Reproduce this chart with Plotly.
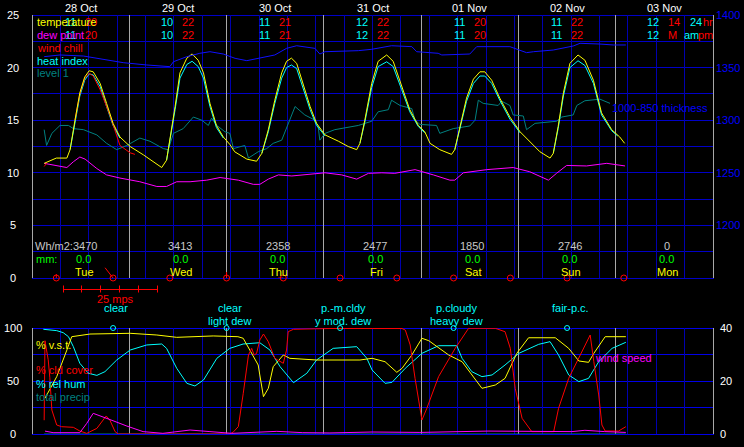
import math
import plotly.graph_objects as go

# ---------------- data (hours from 28 Oct 00:00, value) ----------------
temperature = [(3.0,10.9),(4.4,11.15),(6.0,11.4),(8.6,11.4),(9.4,12.2),(10.6,15.0),(11.8,17.6),(13.0,19.1),(14.1,19.7),(15.1,19.6),
               (16.8,18.5),(18.4,16.6),(20.0,14.7),(21.7,13.4),(24.2,12.5),(27.5,11.7),(29.9,11.05),(32.0,10.5),(33.2,11.2),(34.0,13.1),
               (35.3,16.3),(36.5,19.5),(38.2,20.9),(39.5,21.3),(41.0,20.7),(42.3,19.5),(43.9,16.6),(45.5,14.5),(47.2,13.4),(48.8,12.7),
               (50.0,12.0),(53.0,11.3),(55.4,11.1),(56.7,11.85),(58.3,14.1),(59.9,16.9),(61.6,19.5),(62.8,20.6),(64.0,20.9),(65.3,20.4),
               (66.9,18.5),(68.6,16.3),(70.2,14.7),(72.3,13.6),(75.6,13.0),(78.0,12.5),(80.1,12.2),(80.9,12.8),(82.1,15.0),(83.8,18.5),
               (85.4,20.6),(87.5,21.2),(89.1,20.6),(91.2,18.2),(93.2,16.0),(95.3,14.5),(96.9,13.9),(98.2,12.8),(100.6,12.2),(103.5,11.75),
               (104.3,12.2),(105.6,14.4),(107.2,17.1),(108.9,18.9),(110.5,19.6),(111.7,19.6),(113.4,18.8),(115.4,17.1),(117.9,15.3),(120.4,13.9),
               (122.8,13.0),(125.3,12.0),(127.8,11.4),(128.6,11.85),(129.8,14.4),(131.1,17.6),(132.7,20.4),(134.7,21.2),(136.4,20.7),(138.5,18.8),
               (140.5,15.7),(143.0,14.1),(145.0,13.4),(146.2,12.8)]

heat_index = [(9.4,12.2),(10.6,14.8),(11.8,17.3),(13.0,18.8),(14.1,19.4),(15.1,19.3),(16.8,18.2),(18.4,16.3),(20.0,14.5),(21.7,13.3),None,
              (33.2,11.2),(34.0,12.9),(35.3,16.0),(36.5,19.0),(38.2,20.3),(39.5,20.6),(41.0,20.1),(42.3,19.0),(43.9,16.3),(45.5,14.3),(47.2,13.3),None,
              (56.7,11.85),(58.3,13.9),(59.9,16.6),(61.6,19.0),(62.8,20.0),(64.0,20.25),(65.3,19.9),(66.9,18.1),(68.6,16.0),(70.2,14.5),(72.3,13.5),None,
              (80.9,12.8),(82.1,14.8),(83.8,18.1),(85.4,20.1),(87.5,20.55),(89.1,20.1),(91.2,17.9),(93.2,15.8),(95.3,14.4),(96.9,13.8),None,
              (104.3,12.2),(105.6,14.2),(107.2,16.8),(108.9,18.5),(110.5,19.2),(111.7,19.2),(113.4,18.5),(115.4,16.9),(117.9,15.1),(120.4,13.8),None,
              (128.6,11.85),(129.8,14.2),(131.1,17.3),(132.7,20.0),(134.7,20.65),(136.4,20.2),(138.5,18.5),(140.5,15.5),(143.0,14.0),(144.5,13.5)]

wind_chill = [(3.0,10.6),(3.6,10.9),None,
              (10.6,15.0),(11.8,17.5),(13.0,19.0),(14.1,19.45),(15.1,19.2),(16.8,17.9),(19.2,15.5),(20.5,13.9),(21.7,12.6),(24.2,11.9),(25.4,11.75)]

dew_point = [(3.0,10.9),(6.1,10.7),(8.6,10.5),(10.2,11.05),(11.8,11.5),(13.1,11.3),(16.0,10.4),(18.4,9.8),(21.7,9.5),(26.6,9.15),
             (30.8,8.7),(33.2,8.7),(35.7,9.15),(39.0,9.15),(43.1,9.3),(46.4,9.55),(50.9,9.3),(54.6,8.9),(56.2,8.9),(58.3,9.4),
             (60.8,9.8),(64.1,9.7),(68.2,9.85),(72.3,10.0),(76.4,9.8),(80.1,9.4),(83.0,9.95),(86.3,10.0),(89.5,9.95),(94.5,10.3),
             (99.0,9.8),(103.1,9.3),(104.3,9.3),(106.4,10.0),(112.2,10.3),(118.7,10.5),(122.8,10.1),(127.4,9.3),(129.4,9.95),(131.9,10.7),
             (136.8,10.65),(141.8,10.9),(146.3,10.65)]

level_1 = [(3.0,14.1),(3.6,12.6),(4.9,13.75),(6.9,14.5),(9.0,14.5),(10.2,14.2),(12.7,14.1),(16.0,13.6),(18.4,12.8),(20.9,12.2),
           (23.4,12.6),(26.6,13.3),(29.1,13.0),(32.4,12.3),(33.6,12.2),(34.9,13.75),(37.3,14.2),(39.8,15.3),(41.9,15.0),(43.5,14.5),
           (44.3,15.2),(45.6,14.5),(47.6,13.9),(48.8,13.75),(49.7,12.3),(52.5,12.6),(53.4,11.4),(55.8,12.0),(57.9,12.3),(59.5,12.8),
           (61.6,13.1),(63.6,15.0),(64.9,16.3),(67.3,15.5),(69.8,15.0),(70.6,14.4),(71.0,13.1),(72.3,13.75),(74.7,14.1),(80.5,14.5),
           (83.8,14.9),(85.4,15.8),(87.9,16.0),(88.7,16.9),(90.8,16.4),(93.7,16.1),(94.5,15.0),(95.7,14.6),(99.8,14.5),(100.6,13.75),
           (103.9,14.2),(108.0,14.45),(109.3,15.0),(110.1,16.9),(111.3,16.6),(115.0,16.4),(115.9,16.8),(117.9,16.4),(118.7,15.5),(121.2,15.4),
           (122.0,14.1),(124.1,14.7),(129.4,14.9),(130.7,15.3),(133.5,15.5),(134.4,16.4),(136.4,16.85),(140.1,17.0),(142.6,16.6)]

thickness = [(3.0,1360.4),(6.9,1362),(12.7,1361),(17.6,1357.9),(22.5,1354.7),(28.3,1352.5),(34.0,1350.9),(34.9,1355.6),(38.2,1360.4),(41.4,1363.6),
             (43.9,1365.1),(47.2,1362.9),(50.1,1358.8),(53.0,1356.6),(55.8,1358.8),(59.9,1362),(62.8,1368.3),(65.3,1370.8),(69.8,1368.3),(71.0,1362.9),
             (72.3,1365.1),(80.5,1366.1),(83.8,1367.4),(88.7,1370.8),(93.7,1369.9),(94.9,1365.1),(100.2,1363.6),(101.1,1362),(108.0,1362.9),(109.7,1369.9),
             (117.9,1369.9),(119.6,1367.4),(122.0,1364.2),(123.7,1365.1),(128.6,1366.7),(133.5,1370.5),(135.2,1373.1),(140.1,1372.4),(143.4,1371.5),(146.5,1371.5)]

rel_hum = [(2.8,98.8),(6.1,97.5),(7.7,95.6),(9.0,91.8),(10.2,82.4),(11.8,66.7),(13.9,57.3),(16.0,55.3),(18.0,58.8),(20.9,69.8),
           (24.2,79.2),(28.3,84.0),(32.0,84.9),(33.2,80.8),(35.7,62.0),(38.2,47.8),(40.2,45.3),(42.3,50.9),(45.6,71.4),(48.8,80.8),
           (52.1,84.9),(56.2,86.1),(58.7,79.2),(61.2,63.5),(64.5,48.4),(67.8,57.3),(70.2,69.8),(74.3,80.8),(80.1,82.4),(82.6,71.4),
           (83.9,60.4),(87.1,47.8),(88.8,48.7),(92.1,62.0),(96.2,76.1),(100.3,83.3),(104.8,83.3),(106.1,71.4),(108.5,58.8),(111.0,54.1),
           (113.5,55.7),(116.7,65.1),(120.1,76.1),(125.0,84.6),(127.8,87.1),(129.9,74.5),(132.4,55.7),(134.9,49.4),(137.3,52.5),(139.8,68.2),
           (143.1,80.8),(146.5,86.5)]

vst = [(3.2,33.7),(6.1,54.1),(8.6,79.2),(9.8,91.8),(14.3,94.3),(24.2,95.0),(30.8,93.4),(35.7,91.2),(44.7,92.5),(50.8,91.8),
       (52.1,90.3),(54.2,76.1),(55.8,65.1),(56.2,55.7),(57.1,35.2),(58.3,43.1),(59.5,63.5),(62.0,74.5),(63.6,71.4),(70.2,69.8),
       (80.9,69.8),(83.9,71.4),(87.1,68.2),(90.0,58.2),(91.3,62.0),(93.7,74.5),(96.2,90.3),(97.9,88.0),(102.8,74.5),(106.1,68.2),
       (108.5,55.7),(111.0,43.1),(114.3,46.2),(116.7,52.5),(119.6,76.1),(122.5,90.8),(129.1,90.8),(132.4,80.8),(134.9,68.9),(137.3,67.6),
       (138.6,76.1),(141.4,91.8),(146.5,91.8)]

cld_cover = [(3.0,13),(3.2,88),(4.0,70),(4.4,53),(4.9,22.6),(6.1,8.5),(7.3,6.9),(10.2,6.3),(11.8,2.8),(13.5,0.6),
             (16.0,5.3),(18.3,17),(19.2,13.2),(20.5,2.2),(21.3,0),(48.8,0),(49.7,2),(50.9,7),(52.1,38),(53.4,74.5),
             (54.2,80.8),(54.8,74.5),(55.4,76),(56.2,88.7),(57.1,94.3),(58.3,87),(59.9,71.4),(62.0,66.7),(62.8,79.2),(63.2,96.5),
             (64.5,98.8),(73.5,99.5),(83.9,99.5),(91.3,99.5),(92.1,98),(93.3,84),(94.5,52.5),(95.8,21),(96.2,13.2),(97.4,24.2),
             (100.3,54.1),(104.4,80.8),(107.7,99.7),(114.3,99.7),(116.7,96.5),(118.0,80.8),(119.2,43.1),(120.9,14.8),(123.3,2.2),(128.7,2.2),
             (129.9,24.2),(132.4,52.5),(134.9,71.4),(137.7,93.4),(138.6,68.2),(139.8,36.8),(140.6,8.5),(141.4,2.8),(144.7,2.8),(146.5,6.9)]

wind_speed = [(3.2,1.1),(5.2,0.5),(11.8,0.5),(13.5,4.0),(15.1,7.8),(17.6,6.5),(20.0,5.0),(23.4,3.0),(27.4,0.9),(32.3,0.25),
              (39.0,1.5),(43.9,0.9),(49.3,0.25),(60.4,1.0),(66.8,0.5),(73.5,0.4),(83.9,0.75),(95.7,0.6),(112.5,1.1),(133.2,0.9),
              (136.4,1.4),(141.3,0.9),(146.5,0.6)]

total_precip = [(3.0,0.0),(146.5,0.0)]

dates = ["28 Oct", "29 Oct", "30 Oct", "31 Oct", "01 Nov", "02 Nov", "03 Nov"]
weekdays = ["Tue", "Wed", "Thu", "Fri", "Sat", "Sun", "Mon"]
row1_min = ["11", "10", "11", "12", "11", "11", "12"]
row1_max = ["20", "22", "21", "22", "20", "22", "14"]
row2_min = ["11", "10", "11", "12", "11", "11", "12"]
row2_max = ["20", "22", "21", "22", "20", "22", "M"]
solar_wh = [3470, 3413, 2358, 2477, 1850, 2746, 0]
rain_mm = [0.0, 0.0, 0.0, 0.0, 0.0, 0.0, 0.0]

wind_marker_hours = [6, 20, 34, 48, 62, 76, 90, 104, 118, 132, 146]
barb_hours = [6, 20, 48, 62]
barb_dir_deg = [90, 128, 90, 180]
barb_len = [4, 13, 6, 5]
scale_mps = [0, 5, 10, 15, 20, 25]

wx_hours = [20, 48, 76, 104, 132]
wx_line1 = ["clear", "clear", "p.-m.cldy", "p.cloudy", "fair-p.c."]
wx_line2 = ["", "light dew", "y mod. dew", "heavy dew", ""]

top_left_ticks = [0, 5, 10, 15, 20, 25]
top_right_ticks = [1200, 1250, 1300, 1350, 1400]
bot_left_ticks = [0, 50, 100]
bot_right_ticks = [0, 20, 40]

# ---------------- layout helpers ----------------
W, H = 744, 447
L, R, T, B = 32, 31, 15, 13
PW, PH = W - L - R, H - T - B
FONT = "Liberation Sans, Arial, sans-serif"
X_SPAN = 168.0
TOP_PIX = (15, 278)     # pixel rows of value 25 and 0 (top panel)
BOT_PIX = (328, 434)    # pixel rows of value 100 and 0 (bottom panel)

def py(p):
    return (H - B - p) / PH

def pxp(p):
    return (p - L) / PW

def snap(p):
    return math.floor(p + 1e-6) + 0.5

YEL, MAG, RED, CYA, TEAL, BLU = "#ffff00", "#ff00ff", "#ff0000", "#00ffff", "#008080", "#1010ff"
GRAY, VBLUE, HBLUE_TOP, HBLUE_BOT = "#a8a8a8", "#0000b0", "#0000c8", "#0000e8"

fig = go.Figure()

def add_line(pairs, color, xa, ya):
    xs = [p[0] if p else None for p in pairs]
    ys = [p[1] if p else None for p in pairs]
    fig.add_trace(go.Scatter(x=xs, y=ys, mode="lines", line=dict(color=color, width=1),
                             xaxis=xa, yaxis=ya, hoverinfo="skip", showlegend=False,
                             connectgaps=False))

# top panel
add_line(thickness, BLU, "x", "y2")
add_line(level_1, TEAL, "x", "y")
add_line(dew_point, MAG, "x", "y")
add_line(heat_index, CYA, "x", "y")
add_line(wind_chill, RED, "x", "y")
add_line(temperature, YEL, "x", "y")
fig.add_trace(go.Scatter(x=wind_marker_hours, y=[0] * len(wind_marker_hours), mode="markers",
                         marker=dict(symbol="circle-open", size=6, color=RED, line=dict(width=1, color=RED)),
                         xaxis="x", yaxis="y", cliponaxis=False, hoverinfo="skip", showlegend=False))

# bottom panel
add_line(total_precip, TEAL, "x2", "y3")
add_line(wind_speed, MAG, "x2", "y4")
add_line(rel_hum, CYA, "x2", "y3")
add_line(vst, YEL, "x2", "y3")
add_line(cld_cover, RED, "x2", "y3")
fig.add_trace(go.Scatter(x=wx_hours, y=[100] * len(wx_hours), mode="markers",
                         marker=dict(symbol="circle-open", size=5, color=CYA, line=dict(width=1, color=CYA)),
                         xaxis="x2", yaxis="y3", cliponaxis=False, hoverinfo="skip", showlegend=False))

xcommon = dict(range=[0, X_SPAN], showticklabels=False, ticks="", showgrid=False,
               zeroline=False, showline=False)

fig.update_layout(
    width=W, height=H, autosize=False,
    margin=dict(l=L, r=R, t=T, b=B, pad=0),
    paper_bgcolor="black", plot_bgcolor="black",
    showlegend=False,
    font=dict(family=FONT, size=11, color="white"),
    xaxis=dict(domain=[0, 1], anchor="y", **xcommon),
    xaxis2=dict(domain=[0, 1], anchor="y3", **xcommon),
    yaxis=dict(domain=[py(TOP_PIX[1]), py(TOP_PIX[0])], range=[0, 25], showticklabels=False,
               showgrid=False, zeroline=False, anchor="x"),
    yaxis2=dict(overlaying="y", side="right", range=[1150, 1400], showgrid=False,
                showticklabels=False, zeroline=False, anchor="x"),
    yaxis3=dict(domain=[py(BOT_PIX[1]), py(BOT_PIX[0])], range=[0, 100], showticklabels=False,
                showgrid=False, zeroline=False, anchor="x2"),
    yaxis4=dict(overlaying="y3", side="right", range=[0, 40], showgrid=False,
                showticklabels=False, zeroline=False, anchor="x2"),
)

# ---------------- pixel-crisp grid (shapes) ----------------
shapes = []

def vline(px, y_top, y_bot, color):
    x = pxp(snap(px))
    shapes.append(dict(type="line", xref="paper", yref="paper", x0=x, x1=x,
                       y0=py(y_top), y1=py(y_bot), line=dict(color=color, width=1), layer="below"))

def hline(pyy, color):
    y = py(snap(pyy))
    shapes.append(dict(type="line", xref="paper", yref="paper", x0=pxp(L), x1=pxp(L + PW + 1),
                       y0=y, y1=y, line=dict(color=color, width=1), layer="below"))

for top, bot, hstep, hcount, hcol in [(TOP_PIX[0], TOP_PIX[1], 2.5, 10, HBLUE_TOP),
                                       (BOT_PIX[0], BOT_PIX[1], 25, 4, HBLUE_BOT)]:
    for k in range(hcount + 1):
        hline(bot - k * (bot - top) / hcount, hcol)
    for hr in range(7, 168, 7):
        if hr % 24:
            vline(L + hr / X_SPAN * PW, top, bot, VBLUE)
    for hr in range(0, 169, 24):
        vline(L + hr / X_SPAN * PW, top, bot, GRAY)

ann = []

def txt(text, x, y, color, xref="paper", yref="paper", xanchor="center", xshift=0, size=11):
    ann.append(dict(text=text, x=x, y=y, xref=xref, yref=yref, xanchor=xanchor, yanchor="middle",
                    showarrow=False, xshift=xshift, font=dict(family=FONT, size=size, color=color)))

# axis labels
for v in top_left_ticks:
    txt(str(v), pxp(13), v, "white", yref="y")
for v in top_right_ticks:
    txt(str(v), pxp(742), v, "#0000ff", yref="y2", xanchor="right")
for v in bot_left_ticks:
    txt(str(v), pxp(13), v, "white", yref="y3")
for v in bot_right_ticks:
    txt(str(v), pxp(718), v, "white", yref="y4", xanchor="left")

# per-day text
for i in range(7):
    mid = 12 + 24 * i
    txt(dates[i], mid, py(8), "white", xref="x")
    txt(row1_min[i], mid, py(22), CYA, xref="x", xanchor="right", xshift=-3)
    txt(row1_max[i], mid, py(22), RED, xref="x", xanchor="left", xshift=2)
    txt(row2_min[i], mid, py(35), CYA, xref="x", xanchor="right", xshift=-3)
    txt(row2_max[i], mid, py(35), RED, xref="x", xanchor="left", xshift=2)
    if i == 0:
        txt("Wh/m2:%d" % solar_wh[i], pxp(33), py(245.5), "#c8c8c8", xanchor="left")
    else:
        txt(str(solar_wh[i]), mid, py(245.5), "#c8c8c8", xref="x", xshift=2.5)
    txt("%.1f" % rain_mm[i], mid, py(259), "#00ff00", xref="x", xshift=2.5)
    txt(weekdays[i], mid, py(271.5), YEL, xref="x", xshift=3.5)

txt("mm:", pxp(34), py(259), "#00ff00", xanchor="left")
txt("24", pxp(688), py(22), CYA, xanchor="left")
txt("hr", pxp(701), py(22), RED, xanchor="left")
txt("am", pxp(682), py(35), CYA, xanchor="left")
txt("pm", pxp(696), py(35), RED, xanchor="left")

# legends
txt("temperature", pxp(35), py(22.5), YEL, xanchor="left")
txt("dew point", pxp(35), py(35), MAG, xanchor="left")
txt("wind chill", pxp(35), py(48), RED, xanchor="left")
txt("heat index", pxp(35), py(61), CYA, xanchor="left")
txt("level 1", pxp(35), py(73), TEAL, xanchor="left")
txt("1000-850 thickness", pxp(610), py(108), "#0000ff", xanchor="left")

txt("% v.s.t.", pxp(34), py(345), YEL, xanchor="left")
txt("% cld cover", pxp(34), py(370), RED, xanchor="left")
txt("% rel hum", pxp(34), py(384), CYA, xanchor="left")
txt("total precip", pxp(34), py(397), TEAL, xanchor="left")
txt("wind speed", pxp(593), py(358), MAG, xanchor="left")

# weather descriptions
for h, l1, l2 in zip(wx_hours, wx_line1, wx_line2):
    txt(l1, h, py(307.5), CYA, xref="x", xshift=3)
    if l2:
        txt(l2, h, py(321), CYA, xref="x", xshift=3)

# wind scale
txt("25 mps", pxp(115), py(299), RED)
sx0, sstep = 63, 3.76
shapes.append(dict(type="line", xref="paper", yref="paper", x0=pxp(sx0), x1=pxp(sx0 + 25 * sstep),
                   y0=py(289.5), y1=py(289.5), line=dict(color=RED, width=1)))
for m in scale_mps:
    xx = pxp(snap(sx0 + m * sstep))
    shapes.append(dict(type="line", xref="paper", yref="paper", x0=xx, x1=xx,
                       y0=py(285.5), y1=py(292.5), line=dict(color=RED, width=1)))

# wind barbs
for h, d, ln in zip(barb_hours, barb_dir_deg, barb_len):
    dx = ln * math.cos(math.radians(d))
    dy = ln * math.sin(math.radians(d))
    shapes.append(dict(type="line", xref="x", yref="y", xsizemode="pixel", ysizemode="pixel",
                       xanchor=h, yanchor=0, x0=0, y0=0, x1=dx, y1=dy, line=dict(color=RED, width=1)))

fig.update_layout(annotations=ann, shapes=shapes)

fig.write_html("out.html", config=dict(displayModeBar=False),
               post_script="document.body.style.margin='0px';document.body.style.background='black';")
